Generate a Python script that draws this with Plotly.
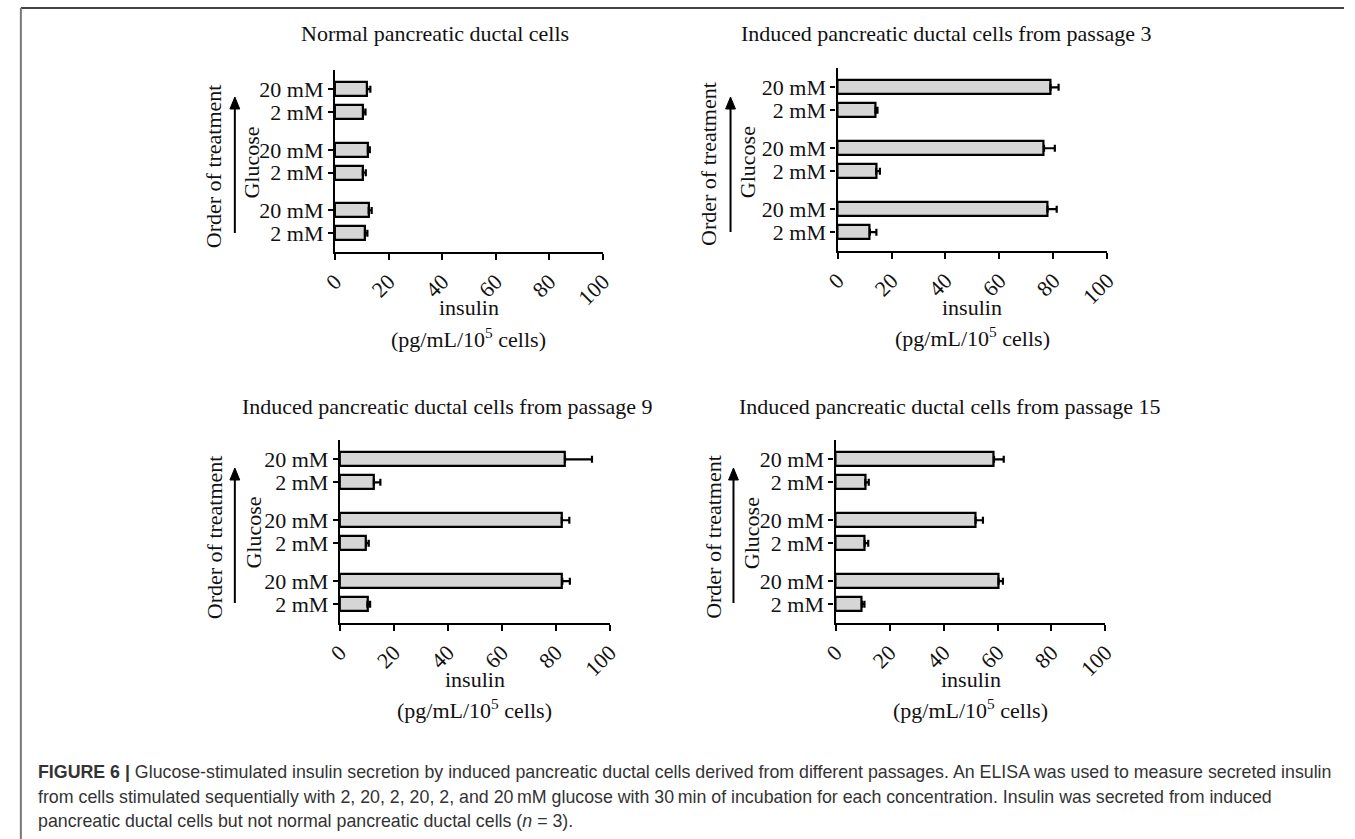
import plotly.graph_objects as go

W, H = 1355, 839

# ---------------- data (bottom -> top = order of treatment) ----------------
glucose_labels = ["2 mM", "20 mM", "2 mM", "20 mM", "2 mM", "20 mM"]
x_ticks = [0, 20, 40, 60, 80, 100]

panel_titles = [
    "Normal pancreatic ductal cells",
    "Induced pancreatic ductal cells from passage 3",
    "Induced pancreatic ductal cells from passage 9",
    "Induced pancreatic ductal cells from passage 15",
]

normal_mean = [11.2, 12.6, 10.4, 12.3, 10.5, 12.0]
normal_sem = [0.9, 1.1, 1.1, 0.7, 0.9, 1.2]

p3_mean = [12.0, 77.8, 14.3, 76.5, 14.1, 78.9]
p3_sem = [2.4, 3.4, 1.4, 4.0, 0.7, 3.0]

p9_mean = [10.2, 82.4, 9.7, 82.2, 12.6, 83.4]
p9_sem = [1.0, 2.8, 1.0, 2.8, 2.4, 10.0]

p15_mean = [9.8, 60.4, 10.8, 51.9, 11.0, 58.7]
p15_sem = [0.9, 1.6, 1.3, 2.7, 1.3, 3.6]

x_title_1 = "insulin"
x_title_2 = "(pg/mL/10<sup>5</sup> cells)"
y_title_outer = "Order of treatment"
y_title_inner = "Glucose"

caption_lines = [
    "<b>FIGURE 6 |</b> Glucose-stimulated insulin secretion by induced pancreatic ductal cells derived from different passages. An ELISA was used to measure secreted insulin",
    "from cells stimulated sequentially with 2, 20, 2, 20, 2, and 20\u2009mM glucose with 30\u2009min of incubation for each concentration. Insulin was secreted from induced",
    "pancreatic ductal cells but not normal pancreatic ductal cells (<i>n</i> = 3).",
]

# ---------------- layout geometry (pixels) ----------------
panels = [
    dict(mean=normal_mean, sem=normal_sem, box=(327, 600, 70, 252), title=(429, 34),
         outer=(203, 166), inner=(242, 163), arrow=(225, 233, 97)),
    dict(mean=p3_mean, sem=p3_sem, box=(839, 1114, 68, 251), title=(950, 34),
         outer=(708, 164), inner=(748, 162), arrow=(730, 232, 97)),
    dict(mean=p9_mean, sem=p9_sem, box=(332, 607, 440, 623), title=(441, 407),
         outer=(204, 537), inner=(243, 533), arrow=(225, 603, 468)),
    dict(mean=p15_mean, sem=p15_sem, box=(837, 1112, 440, 623), title=(953, 407),
         outer=(712, 537), inner=(751, 533), arrow=(733, 603, 468)),
]

def fx(px):
    return px / W

def fy(py):
    return 1 - py / H

# bar positions: pairs separated by a gap
positions = [(i // 2) * 2.65 + (i % 2) for i in range(len(glucose_labels))]
y_range = [-0.82, positions[-1] + 0.84]

SERIF = "Liberation Serif, Times New Roman, serif"
SANS = "Liberation Sans, Arial, Helvetica, sans-serif"
FS = 22
TXT = "#111"

fig = go.Figure()
annotations = []
shapes = []
layout_axes = {}

for k, p in enumerate(panels):
    n = k + 1
    xa = "x" if n == 1 else f"x{n}"
    ya = "y" if n == 1 else f"y{n}"
    fig.add_trace(go.Bar(
        x=p["mean"], y=positions, orientation="h",
        xaxis=xa, yaxis=ya, width=0.62,
        marker=dict(color="#d6d6d6", line=dict(color="black", width=2.2)),
        error_x=dict(type="data", symmetric=False, array=p["sem"],
                     arrayminus=[0] * len(p["sem"]),
                     color="black", thickness=2.2, width=3.5),
        showlegend=False, hoverinfo="skip",
    ))
    x0, x1, y0, y1 = p["box"]
    xkey = "xaxis" if n == 1 else f"xaxis{n}"
    ykey = "yaxis" if n == 1 else f"yaxis{n}"
    layout_axes[xkey] = dict(
        domain=[fx(x0), fx(x1)], anchor=ya, range=[0, 100],
        tickvals=x_ticks, ticktext=[str(t) for t in x_ticks], tickangle=-45,
        showline=True, linecolor="black", linewidth=2.2,
        ticks="outside", ticklen=6, tickwidth=2, tickcolor="black",
        showgrid=False, zeroline=False,
        tickfont=dict(family=SERIF, size=FS, color=TXT),
        fixedrange=True,
    )
    layout_axes[ykey] = dict(
        domain=[fy(y1), fy(y0)], anchor=xa, range=y_range,
        tickvals=positions, ticktext=glucose_labels,
        showline=True, linecolor="black", linewidth=2.2,
        ticks="outside", ticklen=5, tickwidth=2, tickcolor="black",
        showgrid=False, zeroline=False,
        tickfont=dict(family=SERIF, size=FS, color=TXT),
        fixedrange=True,
    )
    # panel title
    tx, ty = p["title"]
    annotations.append(dict(text=panel_titles[k], x=fx(tx), y=fy(ty), xref="paper", yref="paper",
                            xanchor="center", yanchor="middle", showarrow=False,
                            font=dict(family=SERIF, size=FS, color=TXT)))
    # x titles
    cx = (x0 + x1) / 2
    annotations.append(dict(text=x_title_1, x=fx(cx), y=fy(y1 + 56), xref="paper", yref="paper",
                            xanchor="center", yanchor="middle", showarrow=False,
                            font=dict(family=SERIF, size=FS, color=TXT)))
    annotations.append(dict(text=x_title_2, x=fx(cx), y=fy(y1 + 86), xref="paper", yref="paper",
                            xanchor="center", yanchor="middle", showarrow=False,
                            font=dict(family=SERIF, size=FS, color=TXT)))
    # y titles
    ox, oy = p["outer"]
    annotations.append(dict(text=y_title_outer, x=fx(ox), y=fy(oy), xref="paper", yref="paper",
                            xanchor="center", yanchor="middle", textangle=-90, showarrow=False,
                            font=dict(family=SERIF, size=FS, color=TXT)))
    ix, iy = p["inner"]
    annotations.append(dict(text=y_title_inner, x=fx(ix), y=fy(iy), xref="paper", yref="paper",
                            xanchor="center", yanchor="middle", textangle=-90, showarrow=False,
                            font=dict(family=SERIF, size=FS, color=TXT)))
    # arrow (shaft + filled head) drawn as shapes
    axp, tail, tip = p["arrow"]
    head_len, head_half = 12, 5
    shapes.append(dict(type="line", xref="paper", yref="paper",
                       x0=fx(axp), x1=fx(axp), y0=fy(tail), y1=fy(tip + head_len - 1),
                       line=dict(color="black", width=2)))
    path = (f"M {fx(axp)} {fy(tip)} L {fx(axp - head_half)} {fy(tip + head_len)} "
            f"L {fx(axp + head_half)} {fy(tip + head_len)} Z")
    shapes.append(dict(type="path", xref="paper", yref="paper", path=path,
                       fillcolor="black", line=dict(color="black", width=1)))

# caption
cap_y = [772, 797, 821]
for line, yy in zip(caption_lines, cap_y):
    annotations.append(dict(text=line, x=fx(22), y=fy(yy), xref="paper", yref="paper",
                            xanchor="left", yanchor="middle", showarrow=False, align="left",
                            font=dict(family=SANS, size=17.8, color="#333")))

# figure frame (top and left rules)
shapes += [
    dict(type="line", xref="paper", yref="paper", x0=fx(7), x1=1, y0=fy(8), y1=fy(8),
         line=dict(color="#444", width=2)),
    dict(type="line", xref="paper", yref="paper", x0=fx(7), x1=fx(7), y0=fy(8), y1=0,
         line=dict(color="#777", width=2)),
]

fig.update_layout(
    width=W, height=H, autosize=False,
    margin=dict(l=0, r=0, t=0, b=0),
    paper_bgcolor="white", plot_bgcolor="white",
    annotations=annotations, shapes=shapes,
    bargap=0, **layout_axes,
)

fig.write_html("out.html", config={"displayModeBar": False},
               post_script="document.body.style.margin='0';document.body.style.overflow='hidden';")
